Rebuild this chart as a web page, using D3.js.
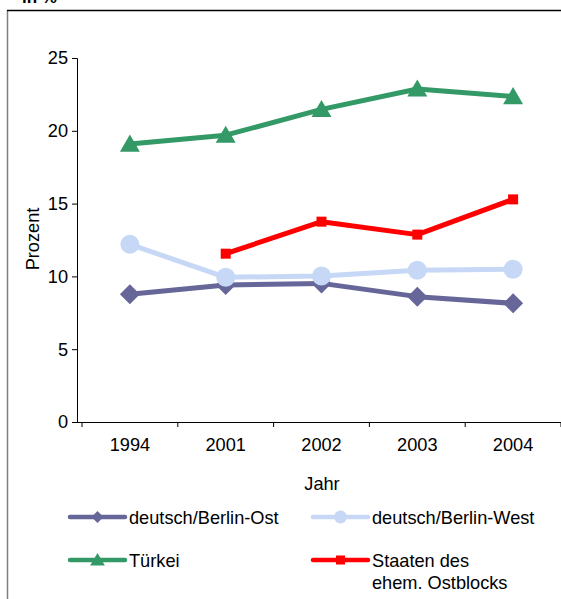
<!DOCTYPE html>
<html>
<head>
<meta charset="utf-8">
<script src="https://cdn.jsdelivr.net/npm/d3@7/dist/d3.min.js"></script>
<style>
  html, body { margin: 0; padding: 0; background: #fff; }
  svg { display: block; }
  text { font-family: "Liberation Sans", Arial, sans-serif; fill: #000; }
</style>
</head>
<body>
<script>
const years = ["1994", "2001", "2002", "2003", "2004"];
const ostValues = [8.77, 9.41, 9.52, 8.61, 8.15];
const westValues = [12.2, 9.94, 10.03, 10.42, 10.49];
const tuerkeiValues = [19.09, 19.7, 21.47, 22.87, 22.35];
const ostblockValues = [null, 11.56, 13.76, 12.87, 15.29];
const yTicks = [0, 5, 10, 15, 20, 25];

const seriesNames = ["deutsch/Berlin-Ost", "deutsch/Berlin-West", "Türkei", "Staaten des|ehem. Ostblocks"];
const seriesColors = ["#666699", "#C6D8F6", "#339966", "#FF0000"];
const seriesShapes = ["diamond", "circle", "triangle", "square"];
const seriesData = [ostValues, westValues, tuerkeiValues, ostblockValues];

const W = 561, H = 599;
const FS = 18.2;
const svg = d3.select("body").append("svg").attr("width", W).attr("height", H);

// frame
svg.append("line").attr("x1", 7.5).attr("x2", 7.5).attr("y1", 10).attr("y2", H).attr("stroke", "#808080").attr("stroke-width", 1.5);
svg.append("line").attr("x1", 7).attr("x2", W).attr("y1", 10.5).attr("y2", 10.5).attr("stroke", "#000").attr("stroke-width", 1.5);
svg.append("text").attr("x", 22).attr("y", 3).attr("font-size", 17).attr("font-weight", "bold").text("in %");

const x = d3.scaleBand().domain(years).range([82, 561]).padding(0);
const y = d3.scaleLinear().domain([0, 25]).range([422, 58]);
const cx = d => x(d) + x.bandwidth() / 2;

// y axis
const yAxis = svg.append("g").attr("transform", "translate(77,0)")
  .call(d3.axisLeft(y).tickValues(yTicks).tickSize(5).tickPadding(4));
yAxis.select(".domain").attr("stroke", "#000").attr("stroke-width", 1);
yAxis.selectAll(".tick line").attr("stroke", "#000");
yAxis.selectAll("text").attr("font-size", FS).attr("font-family", "Liberation Sans, Arial, sans-serif");

// x axis
const xAxis = svg.append("g").attr("transform", "translate(0,422)")
  .call(d3.axisBottom(x).tickSize(0).tickPadding(16));
xAxis.select(".domain").remove();
xAxis.selectAll("text").attr("font-size", FS).attr("font-family", "Liberation Sans, Arial, sans-serif");
svg.append("line").attr("x1", 77).attr("x2", W).attr("y1", 422.5).attr("y2", 422.5).attr("stroke", "#000");
const edges = years.map(d => x(d)).concat([x(years[years.length - 1]) + x.bandwidth()]);
svg.selectAll(".xtick").data(edges).enter().append("line")
  .attr("x1", d => d).attr("x2", d => d).attr("y1", 422).attr("y2", 427).attr("stroke", "#000");

// axis titles
svg.append("text").attr("transform", "translate(39,239) rotate(-90)").attr("text-anchor", "middle")
  .attr("font-size", FS).text("Prozent");
svg.append("text").attr("x", 322).attr("y", 490).attr("text-anchor", "middle").attr("font-size", FS).text("Jahr");

function marker(g, shape, color, s) {
  if (shape === "diamond") {
    g.append("path").attr("d", `M0,${-s}L${s},0L0,${s}L${-s},0Z`).attr("fill", color);
  } else if (shape === "circle") {
    g.append("circle").attr("r", s).attr("fill", color);
  } else if (shape === "triangle") {
    g.append("path").attr("d", `M0,${-s}L${s * 1.05},${s * 0.8}L${-s * 1.05},${s * 0.8}Z`).attr("fill", color);
  } else {
    g.append("rect").attr("x", -s).attr("y", -s).attr("width", 2 * s).attr("height", 2 * s).attr("fill", color);
  }
}
const chartSizes = [10, 9.5, 9.5, 5];
const legendSizes = [6, 6.5, 7, 4.5];

const line = d3.line().defined(d => d.v != null).x(d => cx(d.year)).y(d => y(d.v));
seriesData.forEach((vals, i) => {
  const pts = years.map((yr, j) => ({ year: yr, v: vals[j] }));
  svg.append("path").datum(pts).attr("d", line).attr("fill", "none")
    .attr("stroke", seriesColors[i]).attr("stroke-width", 5).attr("stroke-linejoin", "round");
  pts.filter(p => p.v != null).forEach(p => {
    const g = svg.append("g").attr("transform", `translate(${cx(p.year)},${y(p.v)})`);
    marker(g, seriesShapes[i], seriesColors[i], chartSizes[i]);
  });
});

// legend
const legPos = [[70, 517], [313, 517], [70, 560], [313, 560]];
seriesNames.forEach((name, i) => {
  const [lx, ly] = legPos[i];
  svg.append("line").attr("x1", lx).attr("x2", lx + 55).attr("y1", ly).attr("y2", ly)
    .attr("stroke", seriesColors[i]).attr("stroke-width", 4.5).attr("stroke-linecap", "round");
  const g = svg.append("g").attr("transform", `translate(${lx + 27.5},${ly})`);
  marker(g, seriesShapes[i], seriesColors[i], legendSizes[i]);
  const parts = name.split("|");
  const t = svg.append("text").attr("x", lx + 59).attr("y", ly + 7).attr("font-size", FS);
  parts.forEach((p, k) => t.append("tspan").attr("x", lx + 59).attr("dy", k === 0 ? 0 : 22).text(p));
});
</script>
</body>
</html>
